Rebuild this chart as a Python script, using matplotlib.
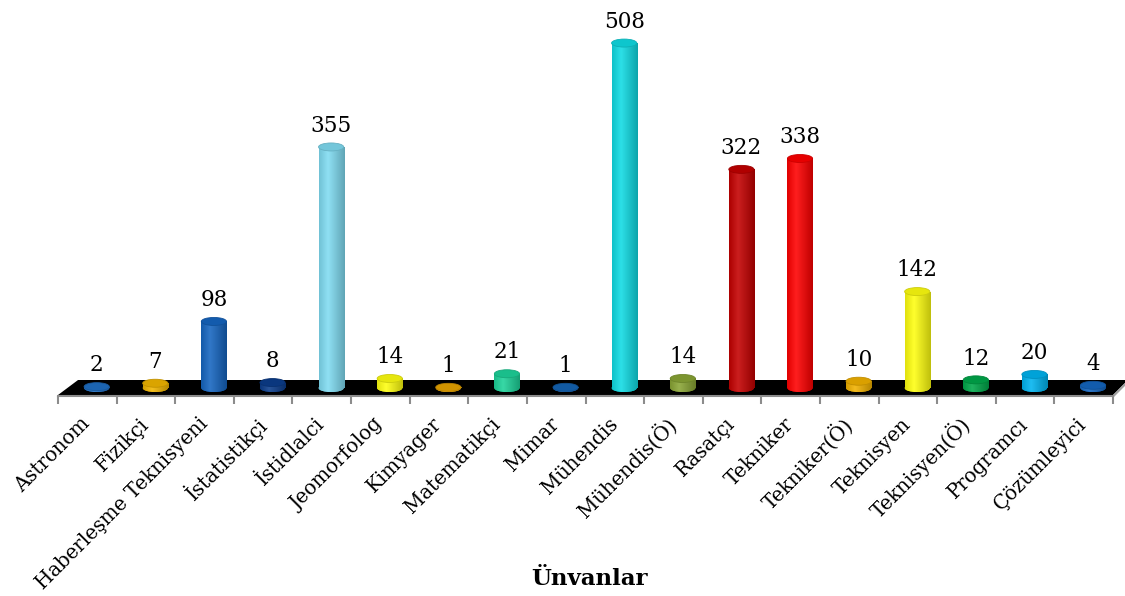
import numpy as np
import matplotlib
matplotlib.use("Agg")
import matplotlib.pyplot as plt
from matplotlib.patches import Ellipse, Polygon
from matplotlib.colors import to_rgb

# ---- data -------------------------------------------------------------
categories = ["Astronom", "Fizikçi", "Haberleşme Teknisyeni", "İstatistikçi",
              "İstidlalci", "Jeomorfolog", "Kimyager", "Matematikçi", "Mimar",
              "Mühendis", "Mühendis(Ö)", "Rasatçı", "Tekniker", "Tekniker(Ö)",
              "Teknisyen", "Teknisyen(Ö)", "Programcı", "Çözümleyici"]
counts = [2, 7, 98, 8, 355, 14, 1, 21, 1, 508, 14, 322, 338, 10, 142, 12, 20, 4]
bar_colors = ["#1f6fc4", "#f2b600", "#1565c0", "#0b3d8c", "#80dcf2", "#ffff10",
              "#e8a400", "#1dd39a", "#1464b4", "#10dce4", "#8aa635", "#c40000",
              "#ff0000", "#f2b200", "#ffff10", "#00a84a", "#00b4f0", "#1466c0"]
axis_title = "Ünvanlar"

plt.rcParams["font.family"] = ["DejaVu Serif"]

W, H = 1125, 596
fig = plt.figure(figsize=(W / 100, H / 100), dpi=100)
ax = fig.add_axes([58 / W, 200 / H, 1055 / W, 396 / H])

px_per_unit = 0.679          # vertical pixels per count
ax.set_xlim(-0.5, len(categories) - 0.5)
ax.set_ylim(-8 / px_per_unit, 388 / px_per_unit)

depth_shift = 0.16           # cylinders sit toward the back of the floor
bar_w = 0.43
ell_h = 8 / px_per_unit      # height of the elliptical caps in data units


def mix(c, other, t):
    c = np.array(to_rgb(c))
    o = np.array(to_rgb(other))
    return tuple(np.clip(c * (1 - t) + o * t, 0, 1))


def body_gradient(color, n=64):
    t = np.linspace(0, 1, n)
    rows = []
    for ti in t:
        if ti < 0.35:
            s = ti / 0.35
            rows.append(mix(mix(color, "black", 0.12), mix(color, "white", 0.12), s))
        else:
            s = (ti - 0.35) / 0.65
            rows.append(mix(mix(color, "white", 0.12), mix(color, "black", 0.25), s))
    return np.array(rows)[None, :, :]


# floor slab (drawn in axes fraction)
floor = Polygon([(0, 0.0025), (0.019, 0.0404), (1.0142, 0.0404), (1.0, 0.0025)],
                closed=True, transform=ax.transAxes, facecolor="black",
                edgecolor="none", clip_on=False, zorder=1)
ax.add_patch(floor)
side = Polygon([(1.0, 0.0025), (1.0142, 0.0404), (1.0142, 0.033), (1.0, -0.005)],
               closed=True, transform=ax.transAxes, facecolor="#a0a0a0",
               edgecolor="none", clip_on=False, zorder=1)
ax.add_patch(side)

x = np.arange(len(categories))
bars = ax.bar(x + depth_shift, counts, width=bar_w, color=bar_colors,
              edgecolor="none", zorder=3)

for rect, val, col in zip(bars, counts, bar_colors):
    x0 = rect.get_x()
    x1 = x0 + rect.get_width()
    xc = x0 + rect.get_width() / 2
    grad = body_gradient(col)
    # rounded bottom of the cylinder
    bottom = Ellipse((xc, 0), rect.get_width(), ell_h, facecolor=col,
                     edgecolor="none", zorder=2.9)
    ax.add_patch(bottom)
    imb = ax.imshow(grad, extent=(x0, x1, -ell_h / 2, 0), aspect="auto",
                    interpolation="bilinear", zorder=2.95)
    imb.set_clip_path(bottom)
    # shaded body
    im = ax.imshow(grad, extent=(x0, x1, 0, val), aspect="auto",
                   interpolation="bilinear", zorder=3.1)
    im.set_clip_path(rect)
    # top cap
    top = Ellipse((xc, val), rect.get_width(), ell_h,
                  facecolor=mix(col, "black", 0.10),
                  edgecolor=mix(col, "black", 0.20), linewidth=0.6, zorder=3.3)
    ax.add_patch(top)
    ax.annotate(f"{val}", (xc, val), xytext=(0, 11), textcoords="offset points",
                ha="center", va="baseline", fontsize=15.5, color="black", zorder=4)

ax.set_xlim(-0.5, len(categories) - 0.5)
ax.set_ylim(-8 / px_per_unit, 388 / px_per_unit)

for s in ("left", "right", "top"):
    ax.spines[s].set_visible(False)
ax.spines["bottom"].set_color("#8c8c8c")
ax.spines["bottom"].set_linewidth(1.5)
ax.set_yticks([])

ax.set_xticks(x)
ax.set_xticklabels(categories, rotation=45, ha="right", va="center",
                   rotation_mode="anchor", fontsize=14.2)
ax.set_xticks(np.arange(-0.5, len(categories)), minor=True)
ax.tick_params(axis="x", which="major", length=0, pad=18)
ax.tick_params(axis="x", which="minor", length=6, width=1.5, color="#8c8c8c")
ax.patch.set_alpha(0)

fig.text(589 / W, 1 - 585 / H, axis_title, ha="center", va="baseline",
         fontsize=16.5, fontweight="bold")

fig.savefig("out.png", dpi=100)
